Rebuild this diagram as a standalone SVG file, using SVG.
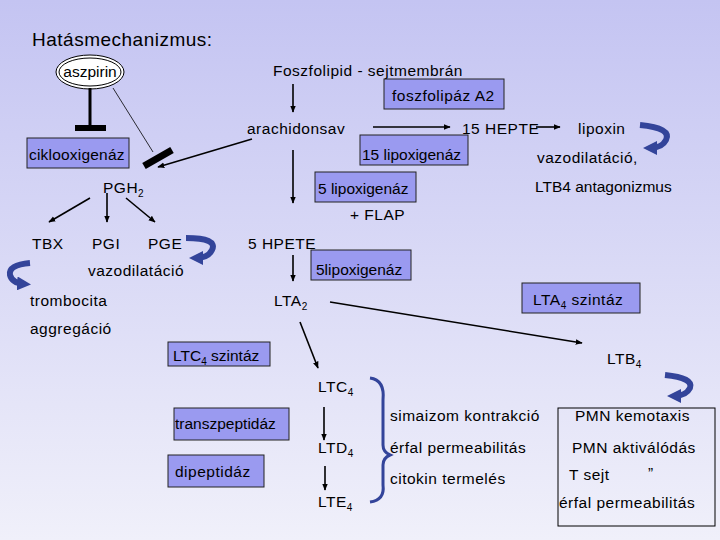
<svg xmlns="http://www.w3.org/2000/svg" width="720" height="540" viewBox="0 0 720 540">
<defs>
<linearGradient id="bg" x1="0" y1="0" x2="0" y2="1"><stop offset="0" stop-color="#c4c4f2"/><stop offset="1" stop-color="#f0f0fa"/></linearGradient>
<marker id="ar" viewBox="0 0 10 10" refX="9" refY="5" markerWidth="7" markerHeight="7" orient="auto" markerUnits="userSpaceOnUse"><path d="M0,1 L10,5 L0,9 z" fill="#000"/></marker>
<marker id="cb" viewBox="0 0 10 10" refX="5" refY="5" markerWidth="14" markerHeight="14" orient="auto" markerUnits="userSpaceOnUse"><path d="M0,0 L10,5 L0,10 z" fill="#33449a"/></marker>
<style>
text{font-family:"Liberation Sans","DejaVu Sans",sans-serif;font-size:15.5px;letter-spacing:0.5px;fill:#000}
.sub{font-size:10px}
.box{fill:#9a9af0;stroke:#222;stroke-width:1}
.ln{stroke:#000;stroke-width:1.6;fill:none;marker-end:url(#ar)}
.curl{stroke:#33449a;stroke-width:6;fill:none;marker-end:url(#cb)}
</style>
</defs>
<rect width="720" height="540" fill="url(#bg)"/>
<text x="32" y="46" style="font-size:19px">Hatásmechanizmus:</text>
<g id="aszpirin"><ellipse cx="90" cy="72" rx="34" ry="17" fill="#fff" stroke="#000"/><ellipse cx="90" cy="72" rx="31" ry="14" fill="#fff" stroke="#000"/><text x="90" y="77" text-anchor="middle" style="letter-spacing:0">aszpirin</text></g>
<g id="foszfolipid"><text x="273" y="76">Foszfolipid - sejtmembrán</text></g>
<g id="foszfolipaz"><rect class="box" x="384" y="79" width="120" height="30"/><text x="392" y="101">foszfolipáz A2</text></g>
<g id="arachidonsav"><text x="247" y="134">arachidonsav</text></g>
<g id="hepte15"><text x="462" y="134">15 HEPTE</text></g>
<g id="lipoxin"><text x="578" y="134">lipoxin</text></g>
<g id="lipox15"><rect class="box" x="360" y="135" width="108" height="30"/><text x="362" y="160" style="letter-spacing:0">15 lipoxigenáz</text></g>
<g id="ciklo"><rect class="box" x="27" y="138" width="102" height="30"/><text x="29" y="160" style="letter-spacing:0.2px">ciklooxigenáz</text></g>
<g id="vazo1"><text x="537" y="163">vazodilatáció,</text><text x="535" y="192" style="letter-spacing:0">LTB4 antagonizmus</text></g>
<g id="pgh2"><text x="103" y="193">PGH<tspan dy="4" class="sub">2</tspan></text></g>
<g id="lipox5"><rect class="box" x="315" y="172" width="101" height="30"/><text x="318" y="194" style="letter-spacing:0">5 lipoxigenáz</text></g>
<g id="flap"><text x="350" y="220">+ FLAP</text></g>
<g id="tbx"><text x="32" y="249">TBX</text></g>
<g id="pgi"><text x="92" y="249">PGI</text></g>
<g id="pge"><text x="148" y="249">PGE</text></g>
<g id="hpete5"><text x="248" y="249">5 HPETE</text></g>
<g id="vazo2"><text x="88" y="276">vazodilatáció</text></g>
<g id="lipox5b"><rect class="box" x="311" y="250" width="100" height="30"/><text x="316" y="275" style="letter-spacing:0">5lipoxigenáz</text></g>
<g id="trombocita"><text x="30" y="306">trombocita</text><text x="30" y="334">aggregáció</text></g>
<g id="lta2"><text x="274" y="306">LTA<tspan dy="4" class="sub">2</tspan></text></g>
<g id="lta4sz"><rect class="box" x="522" y="283" width="118" height="30"/><text x="533" y="305">LTA<tspan dy="4" class="sub">4</tspan><tspan dy="-4"> szintáz</tspan></text></g>
<g id="ltc4sz"><rect class="box" x="168" y="342" width="102" height="24"/><text x="173" y="361" style="letter-spacing:0">LTC<tspan dy="4" class="sub">4</tspan><tspan dy="-4"> szintáz</tspan></text></g>
<g id="ltb4"><text x="607" y="364">LTB<tspan dy="4" class="sub">4</tspan></text></g>
<g id="ltc4"><text x="318" y="392">LTC<tspan dy="4" class="sub">4</tspan></text></g>
<g id="transz"><rect class="box" x="174" y="408" width="115" height="32"/><text x="175" y="429" style="letter-spacing:0">transzpeptidáz</text></g>
<g id="ltd4"><text x="318" y="453">LTD<tspan dy="4" class="sub">4</tspan></text></g>
<g id="dipep"><rect class="box" x="168" y="455" width="96" height="32"/><text x="175" y="477">dipeptidáz</text></g>
<g id="lte4"><text x="318" y="507">LTE<tspan dy="4" class="sub">4</tspan></text></g>
<g id="effects"><text x="390" y="421">simaizom kontrakció</text><text x="390" y="453">érfal permeabilitás</text><text x="390" y="484">citokin termelés</text></g>
<g id="pmn"><rect x="558" y="408" width="157" height="118" fill="none" stroke="#000"/><text x="575" y="421">PMN kemotaxis</text><text x="572" y="453">PMN aktiválódás</text><text x="569" y="480">T sejt</text><text x="648" y="478">”</text><text x="559" y="508">érfal permeabilitás</text></g>
<g id="connectors">
<line class="ln" x1="293" y1="84" x2="293" y2="112"/>
<line class="ln" x1="373" y1="127" x2="450" y2="127"/>
<line class="ln" x1="536" y1="127" x2="560" y2="127"/>
<line class="ln" x1="293" y1="150" x2="293" y2="203"/>
<line class="ln" x1="252" y1="139" x2="158" y2="167"/>
<line x1="90" y1="88" x2="90" y2="127" stroke="#000" stroke-width="3"/>
<rect x="75" y="125" width="31" height="6" fill="#000"/>
<line x1="113" y1="88" x2="153" y2="152" stroke="#000" stroke-width="0.8"/>
<line x1="144" y1="166" x2="172" y2="150" stroke="#000" stroke-width="7"/>
<line class="ln" x1="90" y1="198" x2="49" y2="222"/>
<line class="ln" x1="107" y1="193" x2="107" y2="222"/>
<line class="ln" x1="126" y1="198" x2="155" y2="222"/>
<line class="ln" x1="293" y1="255" x2="293" y2="281"/>
<line class="ln" x1="330" y1="302" x2="582" y2="343"/>
<line class="ln" x1="300" y1="322" x2="318" y2="368"/>
<line class="ln" x1="324" y1="407" x2="324" y2="440"/>
<line class="ln" x1="325" y1="466" x2="325" y2="490"/>
<path d="M370,378 Q385,380 383,400 L383,445 Q383,452 390,455 Q383,458 383,465 L383,485 Q385,500 370,502" stroke="#33449a" stroke-width="3" fill="none"/>
<path class="curl" d="M640,125 Q672,128 666,140 Q662,148 650,148"/>
<path class="curl" d="M186,238 Q218,238 212,250 Q208,258 196,258"/>
<path class="curl" d="M30,263 Q8,265 10,275 Q12,283 24,284"/>
<path class="curl" d="M665,375 Q694,378 690,388 Q686,396 674,396"/>
</g>
</svg>
